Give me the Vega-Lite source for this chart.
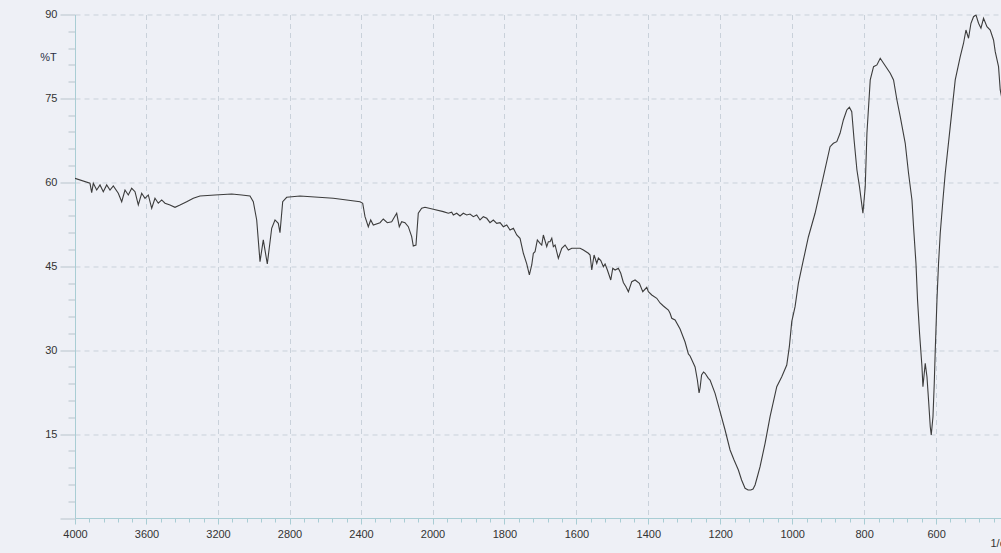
{
  "$schema": "https://vega.github.io/schema/vega-lite/v6.json",
  "autosize": "none",
  "width": 926,
  "height": 503.5,
  "padding": {"left": 75, "top": 14.5, "right": 0, "bottom": 35},
  "background": "#eef0f6",
  "config": {
    "view": {"stroke": null, "fill": "#eef0f6"},
    "font": "Liberation Sans"
  },
  "data": {
    "values": [
      {"wn": 4000, "t": 60.72}, {"wn": 3916.1, "t": 59.83}, {"wn": 3906.6, "t": 58.15}, {"wn": 3897.6, "t": 59.83},
      {"wn": 3878.6, "t": 58.63}, {"wn": 3860.1, "t": 59.53}, {"wn": 3841.7, "t": 58.33}, {"wn": 3822.7, "t": 59.53},
      {"wn": 3804.2, "t": 58.63}, {"wn": 3785.7, "t": 59.35}, {"wn": 3757.8, "t": 58.04}, {"wn": 3738.7, "t": 56.54},
      {"wn": 3720.3, "t": 58.63}, {"wn": 3701.8, "t": 57.74}, {"wn": 3682.8, "t": 58.94}, {"wn": 3664.3, "t": 58.33},
      {"wn": 3645.9, "t": 55.95}, {"wn": 3626.9, "t": 58.04}, {"wn": 3608.4, "t": 57.15}, {"wn": 3589.9, "t": 57.74},
      {"wn": 3570.9, "t": 55.36}, {"wn": 3552.5, "t": 57.15}, {"wn": 3534.0, "t": 56.26}, {"wn": 3515.0, "t": 56.85},
      {"wn": 3496.5, "t": 56.26}, {"wn": 3468.5, "t": 55.95}, {"wn": 3440.6, "t": 55.54}, {"wn": 3412.6, "t": 55.95},
      {"wn": 3375.1, "t": 56.54}, {"wn": 3338.2, "t": 57.15}, {"wn": 3300.7, "t": 57.56}, {"wn": 3216.8, "t": 57.74},
      {"wn": 3123.4, "t": 57.92}, {"wn": 3067.4, "t": 57.74}, {"wn": 3021.0, "t": 57.56}, {"wn": 3002.5, "t": 56.54},
      {"wn": 2983.5, "t": 53.27}, {"wn": 2965.0, "t": 45.82}, {"wn": 2946.6, "t": 49.70}, {"wn": 2924.2, "t": 45.41},
      {"wn": 2899.6, "t": 51.79}, {"wn": 2881.1, "t": 53.27}, {"wn": 2862.7, "t": 52.68}, {"wn": 2853.2, "t": 51.00},
      {"wn": 2838.1, "t": 56.54}, {"wn": 2815.7, "t": 57.33}, {"wn": 2741.3, "t": 57.56}, {"wn": 2555.0, "t": 57.15},
      {"wn": 2405.6, "t": 56.54}, {"wn": 2390.5, "t": 56.26}, {"wn": 2377.6, "t": 53.86}, {"wn": 2359.1, "t": 52.07},
      {"wn": 2345.7, "t": 53.27}, {"wn": 2331.2, "t": 52.38}, {"wn": 2293.7, "t": 52.79}, {"wn": 2275.3, "t": 53.45},
      {"wn": 2252.9, "t": 52.79}, {"wn": 2228.3, "t": 52.97}, {"wn": 2213.7, "t": 53.75}, {"wn": 2200.3, "t": 54.47},
      {"wn": 2185.8, "t": 52.07}, {"wn": 2172.3, "t": 52.97}, {"wn": 2153.9, "t": 52.79}, {"wn": 2135.4, "t": 52.07},
      {"wn": 2116.4, "t": 50.29}, {"wn": 2107.5, "t": 48.62}, {"wn": 2092.4, "t": 48.80}, {"wn": 2079.5, "t": 54.47},
      {"wn": 2060.5, "t": 55.36}, {"wn": 2042.0, "t": 55.54}, {"wn": 1997.8, "t": 55.18}, {"wn": 1970.0, "t": 54.76},
      {"wn": 1956.1, "t": 54.47}, {"wn": 1946.6, "t": 54.65}, {"wn": 1942.1, "t": 54.16}, {"wn": 1932.7, "t": 54.47},
      {"wn": 1923.5, "t": 53.99}, {"wn": 1914.3, "t": 54.47}, {"wn": 1904.9, "t": 54.16}, {"wn": 1895.7, "t": 54.34},
      {"wn": 1886.5, "t": 53.86}, {"wn": 1877.1, "t": 54.16}, {"wn": 1867.9, "t": 53.27}, {"wn": 1858.7, "t": 53.86},
      {"wn": 1849.2, "t": 53.57}, {"wn": 1840.1, "t": 52.79}, {"wn": 1830.9, "t": 53.27}, {"wn": 1821.4, "t": 52.68},
      {"wn": 1812.2, "t": 52.79}, {"wn": 1803.1, "t": 52.07}, {"wn": 1793.6, "t": 52.38}, {"wn": 1784.4, "t": 51.48},
      {"wn": 1775.2, "t": 51.79}, {"wn": 1765.8, "t": 50.59}, {"wn": 1756.6, "t": 50.00}, {"wn": 1747.4, "t": 47.32},
      {"wn": 1738.0, "t": 45.41}, {"wn": 1730.7, "t": 43.44}, {"wn": 1724.1, "t": 45.23}, {"wn": 1719.6, "t": 47.32},
      {"wn": 1714.9, "t": 47.60}, {"wn": 1708.5, "t": 49.70}, {"wn": 1701.0, "t": 49.10}, {"wn": 1696.3, "t": 48.80},
      {"wn": 1691.8, "t": 50.59}, {"wn": 1682.4, "t": 48.50}, {"wn": 1677.9, "t": 49.39}, {"wn": 1673.2, "t": 49.39},
      {"wn": 1668.4, "t": 50.00}, {"wn": 1664.0, "t": 48.50}, {"wn": 1659.2, "t": 48.80}, {"wn": 1650.1, "t": 46.42},
      {"wn": 1640.6, "t": 48.21}, {"wn": 1631.4, "t": 48.80}, {"wn": 1622.3, "t": 47.91}, {"wn": 1612.8, "t": 48.21},
      {"wn": 1598.9, "t": 48.21}, {"wn": 1589.7, "t": 48.21}, {"wn": 1580.5, "t": 47.91}, {"wn": 1566.6, "t": 47.32},
      {"wn": 1561.9, "t": 47.01}, {"wn": 1557.2, "t": 44.33}, {"wn": 1550.8, "t": 47.01}, {"wn": 1543.3, "t": 45.53},
      {"wn": 1538.9, "t": 46.48}, {"wn": 1532.1, "t": 46.00}, {"wn": 1524.9, "t": 44.92}, {"wn": 1520.2, "t": 45.41},
      {"wn": 1513.8, "t": 44.33}, {"wn": 1504.4, "t": 42.54}, {"wn": 1498.8, "t": 44.64}, {"wn": 1492.4, "t": 44.33},
      {"wn": 1483.3, "t": 44.64}, {"wn": 1476.6, "t": 43.74}, {"wn": 1469.4, "t": 42.10}, {"wn": 1461.8, "t": 41.29},
      {"wn": 1455.4, "t": 40.45}, {"wn": 1446.0, "t": 42.24}, {"wn": 1436.8, "t": 42.54}, {"wn": 1424.8, "t": 41.95},
      {"wn": 1415.4, "t": 40.45}, {"wn": 1404.3, "t": 41.24}, {"wn": 1399.8, "t": 40.45}, {"wn": 1390.4, "t": 39.86},
      {"wn": 1376.5, "t": 39.27}, {"wn": 1367.3, "t": 38.43}, {"wn": 1358.1, "t": 37.90}, {"wn": 1344.2, "t": 37.18},
      {"wn": 1339.5, "t": 36.59}, {"wn": 1334.8, "t": 35.70}, {"wn": 1325.6, "t": 35.39}, {"wn": 1311.7, "t": 33.79},
      {"wn": 1297.8, "t": 31.46}, {"wn": 1288.6, "t": 29.32}, {"wn": 1283.9, "t": 28.96}, {"wn": 1274.7, "t": 27.65},
      {"wn": 1270.0, "t": 26.99}, {"wn": 1263.6, "t": 24.67}, {"wn": 1258.9, "t": 22.35}, {"wn": 1256.1, "t": 23.24},
      {"wn": 1251.9, "t": 25.56}, {"wn": 1246.4, "t": 26.10}, {"wn": 1242.2, "t": 25.87}, {"wn": 1233.0, "t": 24.97},
      {"wn": 1228.3, "t": 24.67}, {"wn": 1214.4, "t": 22.29}, {"wn": 1200.5, "t": 19.00}, {"wn": 1186.6, "t": 15.73},
      {"wn": 1172.7, "t": 12.16}, {"wn": 1161.6, "t": 10.37}, {"wn": 1149.6, "t": 8.58}, {"wn": 1140.7, "t": 6.79},
      {"wn": 1131.0, "t": 5.31}, {"wn": 1122.6, "t": 5.01}, {"wn": 1115.1, "t": 5.01}, {"wn": 1108.8, "t": 5.18},
      {"wn": 1103.2, "t": 5.90}, {"wn": 1096.3, "t": 7.51}, {"wn": 1089.3, "t": 9.17}, {"wn": 1075.4, "t": 13.35},
      {"wn": 1061.5, "t": 18.11}, {"wn": 1042.9, "t": 23.47}, {"wn": 1029.0, "t": 25.26}, {"wn": 1015.1, "t": 27.35},
      {"wn": 1007.9, "t": 30.62}, {"wn": 1001.2, "t": 35.09}, {"wn": 992.0, "t": 37.77}, {"wn": 982.8, "t": 41.95},
      {"wn": 968.9, "t": 46.12}, {"wn": 955.0, "t": 50.23}, {"wn": 936.4, "t": 54.47}, {"wn": 913.3, "t": 61.01},
      {"wn": 894.7, "t": 66.37}, {"wn": 885.5, "t": 66.98}, {"wn": 876.0, "t": 67.27}, {"wn": 866.9, "t": 68.77},
      {"wn": 857.7, "t": 71.15}, {"wn": 848.2, "t": 72.93}, {"wn": 841.0, "t": 73.42}, {"wn": 834.4, "t": 72.63},
      {"wn": 827.9, "t": 67.57}, {"wn": 820.0, "t": 62.21}, {"wn": 812.9, "t": 59.22}, {"wn": 803.4, "t": 54.47},
      {"wn": 796.9, "t": 59.22}, {"wn": 792.2, "t": 68.77}, {"wn": 783.0, "t": 78.30}, {"wn": 773.8, "t": 80.67},
      {"wn": 764.4, "t": 80.98}, {"wn": 755.2, "t": 82.18}, {"wn": 746.0, "t": 81.28}, {"wn": 727.4, "t": 79.49},
      {"wn": 718.2, "t": 78.30}, {"wn": 708.8, "t": 74.72}, {"wn": 699.6, "t": 71.74}, {"wn": 685.7, "t": 66.98},
      {"wn": 676.5, "t": 61.62}, {"wn": 667.0, "t": 56.85}, {"wn": 662.6, "t": 52.07}, {"wn": 655.9, "t": 45.53},
      {"wn": 651.5, "t": 38.97}, {"wn": 645.9, "t": 33.02}, {"wn": 639.2, "t": 27.05}, {"wn": 636.5, "t": 23.47},
      {"wn": 630.1, "t": 27.65}, {"wn": 625.3, "t": 25.26}, {"wn": 620.9, "t": 21.09}, {"wn": 616.1, "t": 16.32},
      {"wn": 613.4, "t": 14.84}, {"wn": 608.6, "t": 18.11}, {"wn": 605.0, "t": 24.08}, {"wn": 602.2, "t": 30.03},
      {"wn": 597.5, "t": 38.97}, {"wn": 593.1, "t": 45.53}, {"wn": 588.4, "t": 50.89}, {"wn": 580.9, "t": 56.85},
      {"wn": 574.5, "t": 61.62}, {"wn": 560.6, "t": 69.95}, {"wn": 546.7, "t": 78.30}, {"wn": 532.8, "t": 82.46},
      {"wn": 523.6, "t": 84.86}, {"wn": 516.9, "t": 87.23}, {"wn": 509.7, "t": 85.75}, {"wn": 503.0, "t": 88.43},
      {"wn": 495.8, "t": 89.61}, {"wn": 489.1, "t": 89.92}, {"wn": 481.9, "t": 88.43}, {"wn": 475.2, "t": 87.54},
      {"wn": 468.0, "t": 89.33}, {"wn": 458.5, "t": 87.83}, {"wn": 449.4, "t": 87.23}, {"wn": 440.2, "t": 85.45},
      {"wn": 435.5, "t": 83.36}, {"wn": 426.3, "t": 80.67}, {"wn": 421.6, "t": 76.51}, {"wn": 410.5, "t": 72.93}
    ]
  },
  "mark": {"type": "line", "color": "#3c3c3c", "strokeWidth": 1.1, "clip": true, "interpolate": "linear"},
  "encoding": {
    "x": {
      "field": "wn",
      "type": "quantitative",
      "scale": {"domain": [4000, 2000, 400], "range": [0, 357.5, 933], "nice": false, "zero": false},
      "axis": {
        "title": "1/cm",
        "titleX": 915,
        "titleY": 25,
        "titleAlign": "left",
        "titleBaseline": "middle",
        "titleFontSize": 11,
        "titleFontWeight": "normal",
        "titleColor": "#333333",
        "values": [4000, 3920, 3840, 3760, 3680, 3600, 3520, 3440, 3360, 3280, 3200, 3120, 3040, 2960, 2880, 2800, 2720, 2640, 2560, 2480, 2400, 2320, 2240, 2160, 2080, 2000, 1960, 1920, 1880, 1840, 1800, 1760, 1720, 1680, 1640, 1600, 1560, 1520, 1480, 1440, 1400, 1360, 1320, 1280, 1240, 1200, 1160, 1120, 1080, 1040, 1000, 960, 920, 880, 840, 800, 760, 720, 680, 640, 600, 560, 520, 480, 440],
        "labelExpr": "((datum.value >= 2000 && datum.value % 400 === 0) || (datum.value < 2000 && datum.value % 200 === 0)) ? datum.value : ''",
        "labelFontSize": 11,
        "labelColor": "#333333",
        "labelPadding": 4,
        "labelFlush": false,
        "labelOverlap": false,
        "domainColor": "#a9cdd4",
        "domainWidth": 1,
        "tickColor": "#a9cdd4",
        "tickSize": {"condition": {"test": "(datum.value >= 2000 && datum.value % 400 === 0) || (datum.value < 2000 && datum.value % 200 === 0)", "value": 6}, "value": 4},
        "grid": true,
        "gridColor": "#c9d1da",
        "gridDash": [5, 4],
        "gridOpacity": {"condition": {"test": "((datum.value >= 2000 && datum.value % 400 === 0) || (datum.value < 2000 && datum.value % 200 === 0)) && datum.value < 4000", "value": 1}, "value": 0}
      }
    },
    "y": {
      "field": "t",
      "type": "quantitative",
      "scale": {"domain": [0, 90], "nice": false, "zero": false},
      "axis": {
        "title": "%T",
        "titleAngle": 0,
        "titleX": -27,
        "titleY": 42.5,
        "titleAlign": "center",
        "titleBaseline": "middle",
        "titleFontSize": 11,
        "titleFontWeight": "normal",
        "titleColor": "#2a2f45",
        "values": [0, 3, 6, 9, 12, 15, 18, 21, 24, 27, 30, 33, 36, 39, 42, 45, 48, 51, 54, 57, 60, 63, 66, 69, 72, 75, 78, 81, 84, 87, 90],
        "labelExpr": "(datum.value % 15 === 0 && datum.value > 0) ? datum.value : ''",
        "labelFontSize": 11,
        "labelColor": "#333333",
        "labelPadding": 3,
        "labelFlush": false,
        "labelOverlap": false,
        "domainColor": "#a9cdd4",
        "tickColor": "#b8c4cc",
        "tickSize": {"condition": {"test": "datum.value % 15 === 0", "value": 15}, "value": 7},
        "grid": true,
        "gridColor": "#c9d1da",
        "gridDash": [5, 4],
        "gridOpacity": {"condition": {"test": "datum.value % 15 === 0 && datum.value > 0", "value": 1}, "value": 0}
      }
    }
  }
}
